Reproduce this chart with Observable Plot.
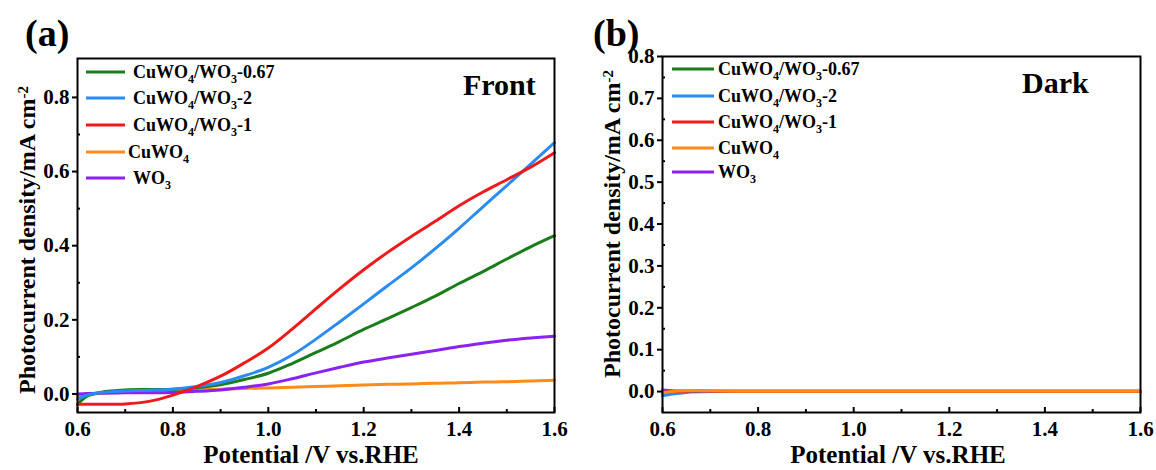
<!DOCTYPE html>
<html><head><meta charset="utf-8">
<script src="https://cdn.jsdelivr.net/npm/d3@7"></script>
<script src="https://cdn.jsdelivr.net/npm/@observablehq/plot@0.6"></script>
<style>
html,body{margin:0;padding:0;background:#fff;}
#fig{position:relative;width:1156px;height:470px;display:flex;}
#fig svg{display:block;overflow:visible;}
</style></head><body><div id="fig"></div>
<script>
// ---------- data ----------
const potential = [0.60,0.62,0.65,0.70,0.75,0.80,0.85,0.90,0.95,1.00,1.05,1.10,1.15,1.20,1.25,1.30,1.35,1.40,1.45,1.50,1.55,1.60];

const seriesNames  = ["CuWO4/WO3-0.67","CuWO4/WO3-2","CuWO4/WO3-1","CuWO4","WO3"];
const seriesColors = ["#1a7d1a","#2a8cf2","#ef1b1b","#ff8a1c","#8a22f2"];

// Front illumination (panel a)
const front_067 = [-0.028,-0.006,0.005,0.011,0.012,0.013,0.017,0.025,0.039,0.056,0.082,0.112,0.142,0.174,0.203,0.233,0.264,0.298,0.330,0.364,0.397,0.427];
const front_2   = [-0.014,-0.003,0.004,0.008,0.010,0.013,0.020,0.031,0.049,0.072,0.105,0.148,0.195,0.243,0.292,0.340,0.392,0.447,0.505,0.562,0.620,0.678];
const front_1   = [-0.028,-0.028,-0.028,-0.027,-0.020,-0.003,0.020,0.048,0.084,0.124,0.175,0.230,0.284,0.335,0.382,0.425,0.466,0.508,0.545,0.578,0.612,0.651];
const front_Cu  = [-0.006,-0.002,0.002,0.005,0.007,0.009,0.011,0.013,0.015,0.016,0.018,0.020,0.022,0.024,0.026,0.027,0.029,0.030,0.032,0.033,0.035,0.037];
const front_WO3 = [0.000,0.001,0.002,0.003,0.003,0.004,0.007,0.011,0.018,0.027,0.041,0.057,0.072,0.086,0.097,0.107,0.117,0.128,0.137,0.145,0.151,0.156];

// Dark (panel b)
const dark_067 = [-0.003,-0.001,0.000,0.001,0.001,0.001,0.001,0.001,0.001,0.001,0.001,0.001,0.001,0.001,0.001,0.001,0.001,0.001,0.001,0.001,0.001,0.001];
const dark_2   = [-0.010,-0.006,-0.002,0.000,0.000,0.000,0.000,0.000,0.000,0.000,0.000,0.000,0.000,0.000,0.000,0.000,0.000,0.000,0.000,0.000,0.000,0.000];
const dark_1   = [-0.002,0.000,0.001,0.001,0.001,0.001,0.001,0.001,0.001,0.001,0.001,0.001,0.001,0.001,0.001,0.001,0.001,0.001,0.001,0.001,0.001,0.001];
const dark_Cu  = [-0.003,0.000,0.002,0.002,0.001,0.001,0.001,0.001,0.001,0.001,0.001,0.001,0.001,0.001,0.001,0.001,0.001,0.001,0.001,0.001,0.001,0.001];
const dark_WO3 = [0.004,0.002,0.001,0.000,0.000,0.000,0.000,0.000,0.000,0.000,0.000,0.000,0.000,0.000,0.000,0.000,0.000,0.000,0.000,0.000,0.000,0.000];

const xTicks  = [0.6,0.8,1.0,1.2,1.4,1.6];
const xMinor  = [0.7,0.9,1.1,1.3,1.5];
const yTicksA = [0.0,0.2,0.4,0.6,0.8];
const yMinorA = [0.1,0.3,0.5,0.7];
const yTicksB = [0.0,0.1,0.2,0.3,0.4,0.5,0.6,0.7,0.8];
const yMinorB = [0.05,0.15,0.25,0.35,0.45,0.55,0.65,0.75];

const xLabel = "Potential /V vs.RHE";
const yLabel = "Photocurrent density/mA cm";
const yLabelSup = "-2";

// ---------- helpers ----------
const FONT = "'Liberation Serif','Times New Roman',serif";
const frontSeries = [front_067, front_2, front_1, front_Cu, front_WO3];
const darkSeries  = [dark_067, dark_2, dark_1, dark_Cu, dark_WO3];

function tidy(arrs){
  const rows = [];
  arrs.forEach((vals,i)=>vals.forEach((v,j)=>rows.push({series:seriesNames[i], x:potential[j], y:v})));
  return rows;
}

function panel(cfg){
  const rows = tidy(cfg.series);
  const lines = cfg.order.map(i => Plot.line(rows.filter(r=>r.series===seriesNames[i]),
      {x:"x", y:"y", stroke: seriesColors[i], strokeWidth:3, curve:"catmull-rom"}));
  const svg = Plot.plot({
    width: cfg.width, height: 470,
    marginLeft: cfg.ml, marginRight: cfg.mr, marginTop: cfg.mt, marginBottom: cfg.mb,
    style: {fontFamily: FONT, fontSize: "21px", fontWeight: "bold", color: "black", background: "white", overflow: "visible"},
    x: {domain: [0.6, 1.6]},
    y: {domain: cfg.ydomain},
    marks: [
      ...lines,
      Plot.axisX({ticks: xTicks, tickFormat: d3.format(".1f"), tickSize: -5, tickPadding: 14, strokeWidth: 2, label: null}),
      Plot.axisX({ticks: xMinor, tickFormat: () => "", tickSize: -3, strokeWidth: 2, label: null}),
      Plot.axisY({ticks: cfg.yticks, tickFormat: d3.format(".1f"), tickSize: 5, tickPadding: 3, strokeWidth: 2, label: null}),
      Plot.axisY({ticks: cfg.yminor, tickFormat: () => "", tickSize: -3, strokeWidth: 2, label: null}),
      Plot.frame({stroke: "black", strokeWidth: 2})
    ]
  });
  const s = d3.select(svg);
  const txt = () => s.append("text").attr("font-family", FONT).attr("font-weight", "bold")
      .attr("text-anchor", "start").attr("fill", "black");
  // panel letter
  txt().attr("x", cfg.letterX).attr("y", 46).attr("font-size", 38).text(cfg.letter);
  // condition label
  txt().attr("x", cfg.condX).attr("y", cfg.condY).attr("font-size", 30).text(cfg.cond);
  // x label
  txt().attr("x", cfg.xlabX).attr("y", 463).attr("text-anchor", "middle").attr("font-size", 25).text(xLabel);
  // y label
  const yl = txt().attr("transform", `translate(${cfg.ylabX},${cfg.ylabY}) rotate(-90)`)
    .attr("text-anchor", "middle").attr("font-size", 24);
  yl.append("tspan").text(yLabel);
  yl.append("tspan").attr("dy", "-0.5em").attr("font-size", 15).text(yLabelSup);
  // legend
  const lg = s.append("g");
  seriesNames.forEach((name, i) => {
    const y = cfg.legY[i];
    lg.append("line").attr("x1", cfg.legX0).attr("x2", cfg.legX1).attr("y1", y).attr("y2", y)
      .attr("stroke", seriesColors[i]).attr("stroke-width", 3);
    const t = lg.append("text").attr("x", cfg.legT[i]).attr("y", y + 6)
      .attr("text-anchor", "start").attr("fill", "black")
      .attr("font-family", FONT).attr("font-size", 18).attr("font-weight", "bold");
    const re = /(WO)([34])/g;
    let last = 0, m;
    while ((m = re.exec(name)) !== null) {
      t.append("tspan").text(name.slice(last, m.index + 2));
      t.append("tspan").attr("dy", 5).attr("font-size", 12).text(m[2]);
      t.append("tspan").attr("dy", -5).text("\u200B");
      last = m.index + 3;
    }
    if (last < name.length) t.append("tspan").text(name.slice(last));
  });
  return svg;
}

const fig = document.getElementById("fig");
fig.appendChild(panel({
  series: frontSeries, order: [3,4,0,1,2],
  width: 578, ml: 77, mr: 24, mt: 58, mb: 58, ydomain: [-0.05, 0.905],
  yticks: yTicksA, yminor: yMinorA,
  letter: "(a)", letterX: 25, cond: "Front", condX: 463, condY: 95,
  xlabX: 311, ylabX: 35, ylabY: 240,
  legX0: 86, legX1: 125, legT: [133,133,133,128,133], legY: [72,98,125,152,178]
}));
fig.appendChild(panel({
  series: darkSeries, order: [4,0,1,2,3],
  width: 578, ml: 84, mr: 16, mt: 56, mb: 58, ydomain: [-0.05, 0.8],
  yticks: yTicksB, yminor: yMinorB,
  letter: "(b)", letterX: 15, cond: "Dark", condX: 444, condY: 93,
  xlabX: 320, ylabX: 42, ylabY: 224,
  legX0: 94, legX1: 136, legT: [140,140,140,140,140], legY: [69,96,122,148,172]
}));
</script></body></html>
